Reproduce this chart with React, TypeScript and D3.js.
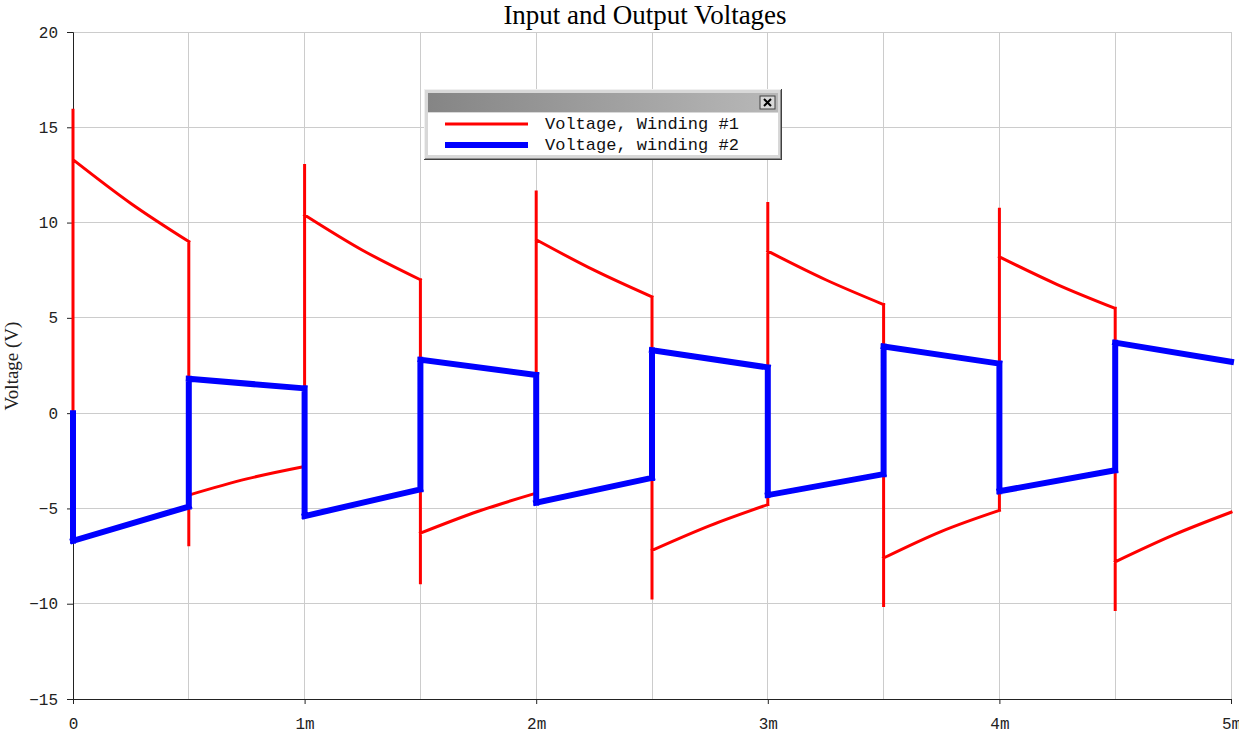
import React, { useRef, useEffect } from 'react';
import * as d3 from 'd3';

// transformer simulation, time in ms
const redTimes = [0, 0, 0, 0.25, 0.5, 0.5, 0.5, 0.75, 1, 1, 1, 1.25, 1.5, 1.5, 1.5, 1.75, 2, 2, 2, 2.25,
  2.5, 2.5, 2.5, 2.75, 3, 3, 3, 3.25, 3.5, 3.5, 3.5, 3.75, 4, 4, 4, 4.25, 4.5, 4.5, 4.5, 4.75, 5];
const redVolts = [0, 15.9, 13.3, 11.0, 9.0, -6.9, -4.3, -3.45, -2.8, 13.0, 10.4, 8.55, 7.0, -8.9, -6.3, -5.15,
  -4.2, 11.6, 9.1, 7.5, 6.1, -9.7, -7.2, -5.9, -4.8, 11.0, 8.5, 7.0, 5.7, -10.1, -7.6, -6.2, -5.1, 10.7, 8.2,
  6.75, 5.5, -10.3, -7.8, -6.4, -5.2];

const blueTimes = [0, 0, 0.5, 0.5, 1, 1, 1.5, 1.5, 2, 2, 2.5, 2.5, 3, 3, 3.5, 3.5, 4, 4, 4.5, 4.5, 5];
const blueVolts = [0, -6.7, -4.9, 1.8, 1.3, -5.4, -4.0, 2.8, 2.0, -4.7, -3.4, 3.3, 2.4, -4.3, -3.2, 3.5,
  2.6, -4.1, -3.0, 3.7, 2.7];

const yTicks = [-15, -10, -5, 0, 5, 10, 15, 20];
const xTicks = [0, 1, 2, 3, 4, 5];
const xTickLabels = ['0', '1m', '2m', '3m', '4m', '5m'];
const xGrid = [0.5, 1, 1.5, 2, 2.5, 3, 3.5, 4, 4.5, 5];

const seriesNames = ['Voltage, Winding #1', 'Voltage, winding #2'];
const seriesColors = ['#ff0000', '#0000ff'];

const WIDTH = 1239;
const HEIGHT = 734;
const LEFT = 73;
const RIGHT = 1231;
const TOP = 32;
const BOTTOM = 699;
const MONO = '"Liberation Mono", "Courier New", monospace';
const SERIF = '"Liberation Serif", "Times New Roman", serif';

const Axis = ({ axis, transform }: { axis: any; transform: string }) => {
  const ref = useRef<SVGGElement>(null);
  useEffect(() => {
    const g = d3.select(ref.current);
    g.call(axis);
    g.select('.domain').attr('stroke', '#222');
    g.selectAll('.tick line').attr('stroke', '#222');
    g.selectAll('.tick text')
      .attr('fill', '#222')
      .style('font-family', MONO)
      .style('font-size', '16px');
  }, [axis]);
  return <g ref={ref} transform={transform} />;
};

// split a trace into smooth runs (time increasing) and vertical jumps (same time)
const tracePath = (times: number[], volts: number[], x: any, y: any, smooth: boolean) => {
  const smoothLine = d3.line<number>()
    .x(i => x(times[i]))
    .y(i => y(volts[i]))
    .curve(smooth ? d3.curveMonotoneX : d3.curveLinear);
  const straight = d3.line<number>()
    .x(i => x(times[i]))
    .y(i => y(volts[i]));
  const parts: string[] = [];
  let run: number[] = [0];
  for (let i = 1; i < times.length; i++) {
    if (times[i] === times[i - 1]) {
      if (run.length > 1) parts.push(smoothLine(run) || '');
      parts.push(straight([i - 1, i]) || '');
      run = [i];
    } else {
      run.push(i);
    }
  }
  if (run.length > 1) parts.push(smoothLine(run) || '');
  return parts.join('');
};

const App = () => {
  const x = d3.scaleLinear().domain([0, 5]).range([LEFT, RIGHT]);
  const y = d3.scaleLinear().domain([-15, 20]).range([BOTTOM, TOP]);

  const redPath = tracePath(redTimes, redVolts, x, y, true);
  const bluePath = tracePath(blueTimes, blueVolts, x, y, false);

  const yAxis = d3.axisLeft(y).tickValues(yTicks).tickSize(6).tickPadding(9)
    .tickFormat(d => (d as number) < 0 ? `\u2212${Math.abs(d as number)}` : `${d}`);
  const xAxis = d3.axisBottom(x).tickValues(xTicks).tickSize(5).tickPadding(14)
    .tickFormat((d, i) => xTickLabels[i]);

  // legend box
  const lx = 424, ly = 89, lw = 358, lh = 71;

  return (
    <svg width={WIDTH} height={HEIGHT} style={{ position: 'absolute', left: 0, top: 0, background: '#fff' }}>
      <defs>
        <linearGradient id="titlebar" x1="0" x2="1" y1="0" y2="0">
          <stop offset="0" stopColor="#858585" />
          <stop offset="1" stopColor="#b8b8b8" />
        </linearGradient>
      </defs>
      <text x={645} y={24} textAnchor="middle" fontFamily={SERIF} fontSize={27} fill="#000">
        Input and Output Voltages
      </text>
      <text transform={`translate(18, 366) rotate(-90)`} textAnchor="middle"
        fontFamily={SERIF} fontSize={19} fill="#222">
        Voltage (V)
      </text>

      <g stroke="#cccccc" strokeWidth={1} shapeRendering="crispEdges">
        {yTicks.map(t => (
          <line key={`h${t}`} x1={LEFT} x2={RIGHT} y1={y(t)} y2={y(t)} />
        ))}
        {xGrid.map(t => (
          <line key={`v${t}`} x1={x(t)} x2={x(t)} y1={TOP} y2={BOTTOM} />
        ))}
      </g>

      <Axis axis={yAxis} transform={`translate(${LEFT},0)`} />
      <Axis axis={xAxis} transform={`translate(0,${BOTTOM})`} />

      <path d={redPath} fill="none" stroke={seriesColors[0]} strokeWidth={3} strokeLinecap="square" />
      <path d={bluePath} fill="none" stroke={seriesColors[1]} strokeWidth={6} strokeLinecap="square" />

      <g>
        <rect x={lx} y={ly} width={lw} height={lh} fill="#d8d8d8" />
        <line x1={lx} x2={lx + lw} y1={ly + 0.5} y2={ly + 0.5} stroke="#f0f0f0" />
        <line x1={lx + 0.5} x2={lx + 0.5} y1={ly} y2={ly + lh} stroke="#f0f0f0" />
        <line x1={lx} x2={lx + lw} y1={ly + lh - 0.5} y2={ly + lh - 0.5} stroke="#404040" />
        <line x1={lx + lw - 0.5} x2={lx + lw - 0.5} y1={ly} y2={ly + lh} stroke="#404040" />
        <line x1={lx + 1} x2={lx + lw - 1} y1={ly + lh - 1.5} y2={ly + lh - 1.5} stroke="#909090" />
        <line x1={lx + lw - 1.5} x2={lx + lw - 1.5} y1={ly + 1} y2={ly + lh - 1} stroke="#909090" />
        <rect x={lx + 4} y={ly + 4} width={lw - 8} height={19} fill="url(#titlebar)" />
        <rect x={lx + 4} y={ly + 24} width={lw - 8} height={lh - 29} fill="#ffffff" />
        <rect x={lx + 336} y={ly + 7} width={15} height={13} fill="#d8d8d8" stroke="#404040" strokeWidth={1} />
        <path d={`M${lx + 340},${ly + 10} L${lx + 347},${ly + 17} M${lx + 347},${ly + 10} L${lx + 340},${ly + 17}`}
          stroke="#000" strokeWidth={2} />
        {seriesNames.map((name, i) => (
          <g key={name}>
            <line x1={lx + 21} x2={lx + 104} y1={ly + 35 + i * 21} y2={ly + 35 + i * 21}
              stroke={seriesColors[i]} strokeWidth={i === 0 ? 3 : 6} />
            <text x={lx + 121} y={ly + 40 + i * 21} fontFamily={MONO} fontSize={17} fill="#111">
              {name}
            </text>
          </g>
        ))}
      </g>
    </svg>
  );
};

export default App;
